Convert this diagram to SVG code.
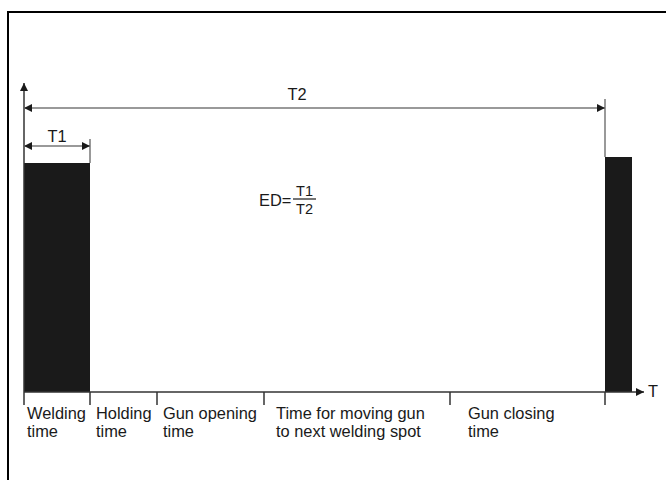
<svg xmlns="http://www.w3.org/2000/svg" width="666" height="480" viewBox="0 0 666 480">
<defs>
<marker id="ah" viewBox="0 0 10 10" refX="10" refY="5" markerWidth="10" markerHeight="8" markerUnits="userSpaceOnUse" orient="auto-start-reverse">
<path d="M0,0 L10,5 L0,10 z" fill="#1a1a1a"/>
</marker>
</defs>
<style>
text{font-family:"Liberation Sans",Arial,sans-serif;font-size:16.4px;fill:#1a1a1a}
.ax{stroke:#333;stroke-width:1.5;fill:none}
.dim{stroke:#777;stroke-width:1.5;fill:none}
.tick{stroke:#333;stroke-width:1.5}
.bar{fill:#1a1a1a}
.fr{font-size:14.5px}
</style>
<rect width="666" height="480" fill="#fff"/>
<g id="frame">
<path d="M8,480 L8,12 L666,12" stroke="#000" stroke-width="2" fill="none"/>
</g>
<g id="bars">
<rect class="bar" x="24" y="163" width="66" height="229"/>
<rect class="bar" x="605" y="157" width="27" height="235"/>
</g>
<g id="connectors">
<line class="ax" x1="24" y1="405" x2="24" y2="83" marker-end="url(#ah)"/>
<line class="ax" x1="24" y1="392" x2="644" y2="392" marker-end="url(#ah)"/>
<line class="dim" x1="605" y1="99" x2="605" y2="157"/>
<line class="dim" x1="24" y1="108" x2="605" y2="108" marker-start="url(#ah)" marker-end="url(#ah)"/>
<line class="dim" x1="90" y1="139" x2="90" y2="163"/>
<line class="dim" x1="24" y1="146" x2="90" y2="146" marker-start="url(#ah)" marker-end="url(#ah)"/>
<line class="tick" x1="90" y1="392" x2="90" y2="405"/>
<line class="tick" x1="157" y1="392" x2="157" y2="405"/>
<line class="tick" x1="264" y1="392" x2="264" y2="405"/>
<line class="tick" x1="450" y1="392" x2="450" y2="405"/>
<line class="tick" x1="605" y1="392" x2="605" y2="405"/>
</g>
<g id="labels">
<text x="297" y="100" text-anchor="middle">T2</text>
<text x="57" y="142" text-anchor="middle">T1</text>
<text x="648" y="397">T</text>
<text x="259" y="206">ED=</text>
<line x1="293" y1="199" x2="316" y2="199" stroke="#1a1a1a" stroke-width="1.2"/>
<text class="fr" x="304.5" y="195.5" text-anchor="middle">T1</text>
<text class="fr" x="304.5" y="213.5" text-anchor="middle">T2</text>
</g>
<g id="phase-welding"><text x="27" y="419">Welding</text><text x="27" y="437">time</text></g>
<g id="phase-holding"><text x="96" y="419">Holding</text><text x="96" y="437">time</text></g>
<g id="phase-opening"><text x="163" y="419">Gun opening</text><text x="163" y="437">time</text></g>
<g id="phase-moving"><text x="276" y="419">Time for moving gun</text><text x="276" y="437">to next welding spot</text></g>
<g id="phase-closing"><text x="468" y="419">Gun closing</text><text x="468" y="437">time</text></g>
</svg>
